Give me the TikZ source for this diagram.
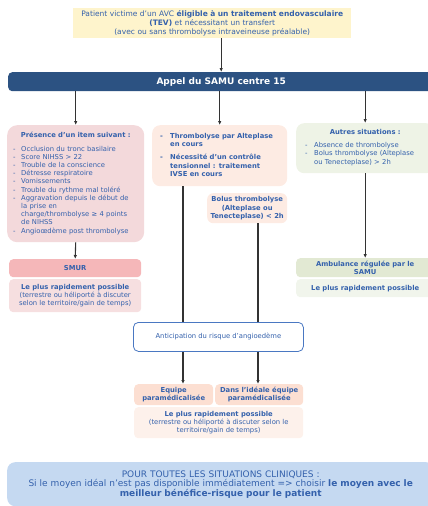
\documentclass[tikz,border=0pt]{standalone}
\usepackage{fontspec}
\setmainfont{DejaVu Sans}
\usetikzlibrary{arrows.meta}
\definecolor{txtblue}{HTML}{3461AC}
\definecolor{samublue}{HTML}{2C5282}
\definecolor{topyellow}{HTML}{FEF4CC}
\definecolor{critpink}{HTML}{F3D9DB}
\definecolor{smurpink}{HTML}{F5B7B9}
\definecolor{smurlow}{HTML}{F6DFE0}
\definecolor{thermpeach}{HTML}{FDEBE3}
\definecolor{autregreen}{HTML}{EEF3E6}
\definecolor{ambgreen}{HTML}{E2E9D3}
\definecolor{amblow}{HTML}{F1F5EC}
\definecolor{anticline}{HTML}{4A78C2}
\definecolor{equipepeach}{HTML}{FCDFD2}
\definecolor{equipelow}{HTML}{FDF1EB}
\definecolor{allblue}{HTML}{C5D9F1}
\definecolor{lnclr}{HTML}{333333}
\newcommand\boxfont{\fontsize{6.8}{8.2}\selectfont}
\tikzset{
  bx/.style={anchor=north west,inner sep=0pt,align=center,
    rounded corners=4pt,font=\boxfont,text=txtblue},
  arr/.style={-{Latex[length=4pt,width=3.5pt]},line width=1.1pt,lnclr},
  ln/.style={line width=1.1pt,lnclr}
}
\begin{document}
\begin{tikzpicture}[x=1pt,y=-1pt]
  \useasboundingbox (0,0) rectangle (428,506);
  \clip (0,0) rectangle (428,506);
  \coordinate (xl) at (183,0);
  \coordinate (xr) at (258,0);
  \node[bx,fill=topyellow,rounded corners=0pt,minimum width=278pt,minimum height=30pt,
    text width=274pt,font=\fontsize{7.5}{9}\selectfont] (top) at (73,8)
  {Patient victime d’un AVC \textbf{éligible à un traitement endovasculaire}\\
   \textbf{(TEV)} et nécessitant un transfert\\
   (avec ou sans thrombolyse intraveineuse préalable)};
  \node[bx,fill=samublue,minimum width=426pt,minimum height=19pt,text=white,
    font=\fontsize{9}{11}\selectfont\bfseries] (samu) at (8,72)
  {Appel du SAMU centre 15};
  \node[bx,fill=critpink,rounded corners=10pt,minimum width=137pt,minimum height=117pt,
    text width=125pt,align=left] (crit) at (7,125)
  {\makebox[\linewidth]{\bfseries Présence d’un item suivant :}\\[7pt]
   \begin{tabular}{@{}p{8pt}@{}l@{}}
   - & Occlusion du tronc basilaire\\
   - & Score NIHSS > 22\\
   - & Trouble de la conscience\\
   - & Détresse respiratoire\\
   - & Vomissements\\
   - & Trouble du rythme mal toléré\\
   - & Aggravation depuis le début de\\
     & la prise en\\
     & charge/thrombolyse ≥ 4 points\\
     & de NIHSS\\
   - & Angioœdème post thrombolyse
   \end{tabular}};
  \node[bx,fill=thermpeach,rounded corners=8pt,minimum width=135pt,minimum height=61pt,
    text width=119pt,align=left] (therm) at (152,125)
  {\bfseries
   \begin{tabular}{@{}p{10pt}@{}l@{}}
   - & Thrombolyse par Alteplase\\
     & en cours\\[5pt]
   - & Nécessité d’un contrôle\\
     & tensionnel : traitement\\
     & IVSE en cours
   \end{tabular}};
  \node[bx,fill=autregreen,rounded corners=8pt,minimum width=138pt,minimum height=50pt,
    text width=120pt,align=left] (autre) at (296,123)
  {\makebox[\linewidth]{\bfseries Autres situations :}\\[6pt]
   \begin{tabular}{@{}p{9pt}@{}l@{}}
   - & Absence de thrombolyse\\
   - & Bolus thrombolyse (Alteplase\\
     & ou Tenecteplase) > 2h
   \end{tabular}};
  \node[bx,fill=thermpeach,rounded corners=6pt,minimum width=80pt,minimum height=30pt,
    font=\boxfont\bfseries] (bolus) at (207,193)
  {Bolus thrombolyse\\(Alteplase ou\\Tenecteplase) < 2h};
  \node[bx,fill=smurpink,minimum width=132pt,minimum height=18pt,
    font=\boxfont\bfseries] (smur) at (9,259)
  {SMUR};
  \node[bx,fill=smurlow,minimum width=132pt,minimum height=33pt] (smurlow) at (9,279)
  {\textbf{Le plus rapidement possible}\\
   (terrestre ou héliporté à discuter\\
   selon le territoire/gain de temps)};
  \node[bx,fill=ambgreen,minimum width=138pt,minimum height=19pt,
    text width=122pt,font=\boxfont\bfseries] (amb) at (296,258)
  {Ambulance régulée par le\\SAMU};
  \node[bx,fill=amblow,minimum width=138pt,minimum height=18pt,
    text width=122pt,font=\boxfont\bfseries] (amblow) at (296,279)
  {Le plus rapidement possible};
  \node[bx,draw=anticline,line width=0.8pt,fill=white,rounded corners=5pt,
    minimum width=170pt,minimum height=29pt] (antic) at (133,322)
  {Anticipation du risque d’angioedème};
  \node[bx,fill=equipepeach,minimum width=79pt,minimum height=21pt,
    font=\boxfont\bfseries] (equipe) at (134,384)
  {Equipe\\paramédicalisée};
  \node[bx,fill=equipepeach,minimum width=88pt,minimum height=21pt,
    font=\boxfont\bfseries] (ideal) at (215,384)
  {Dans l’idéale équipe\\paramédicalisée};
  \node[bx,fill=equipelow,minimum width=169pt,minimum height=31pt] (equipelow) at (134,407)
  {\textbf{Le plus rapidement possible}\\
   (terrestre ou héliporté à discuter selon le\\
   territoire/gain de temps)};
  \node[bx,fill=allblue,rounded corners=8pt,minimum width=427pt,minimum height=44pt,
    text width=415pt,font=\fontsize{9}{9.5}\selectfont] (all) at (7,462)
  {POUR TOUTES LES SITUATIONS CLINIQUES :\\
   Si le moyen idéal n’est pas disponible immédiatement => choisir \textbf{le moyen avec le}\\
   \textbf{meilleur bénéfice-risque pour le patient}};
  \draw[arr] (top.south -| samu) -- (samu.north);
  \draw[arr] (samu.south -| crit) -- (crit.north);
  \draw[arr] (samu.south -| therm) -- (therm.north);
  \draw[arr] (samu.south -| autre) -- (autre.north);
  \draw[arr] (crit.south) -- (smur.north);
  \draw[arr] (autre.south) -- (amb.north);
  \draw[ln] (therm.south -| xl) -- (antic.north -| xl);
  \draw[ln] (bolus.south -| xr) -- (antic.north -| xr);
  \draw[arr] (antic.south -| xl) -- (equipe.north -| xl);
  \draw[arr] (antic.south -| xr) -- (ideal.north -| xr);
\end{tikzpicture}
\end{document}
